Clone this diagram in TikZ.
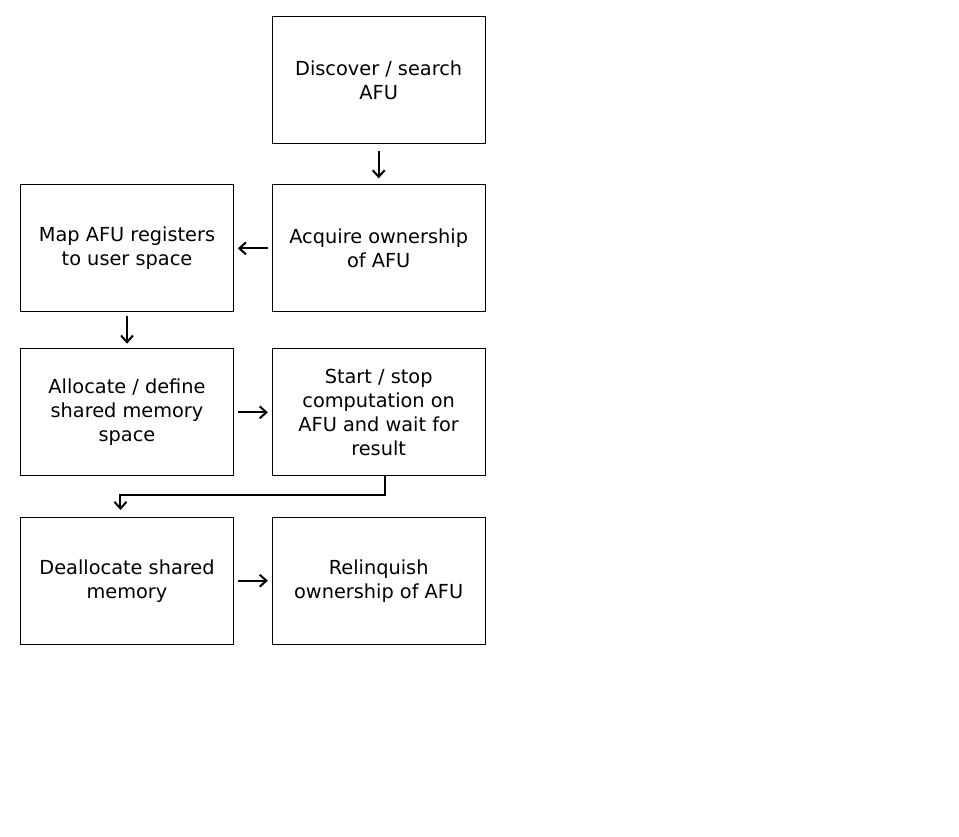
\documentclass[tikz,border=0pt]{standalone}
\usepackage{fontspec}
\setmainfont{DejaVu Sans}
\usetikzlibrary{arrows.meta, positioning}

\begin{document}
\begin{tikzpicture}[
          node distance=30.25pt and 28.5pt,
          stepbox/.style={rectangle, draw=black, line width=0.75pt, minimum width=159.5pt, minimum height=95.25pt, inner sep=0pt, align=center, font=\fontsize{14.5}{18}\selectfont},
          arrow/.style={-{Straight Barb[length=5pt, width=9pt]}, line width=1.5pt}
        ]
          \useasboundingbox (0,0) rectangle (719.25pt,-627pt);

          \node (discover) [stepbox] at (284pt,-60pt) {Discover / search\\AFU};
          \node (acquire) [stepbox, below=of discover] {Acquire ownership\\of AFU};
          \node (map) [stepbox, left=of acquire] {Map AFU registers\\to user space};
          \node (allocate) [stepbox, below=27pt of map] {Allocate / define\\shared memory\\space};
          \node (start) [stepbox, right=of allocate] {Start / stop\\computation on\\AFU and wait for\\result};
          \node (dealloc) [stepbox, below=of allocate] {Deallocate shared\\memory};
          \node (relinquish) [stepbox, right=of dealloc] {Relinquish\\ownership of AFU};

          \draw [arrow, shorten <=5pt, shorten >=4.5pt] (discover) -- (acquire);
          \draw [arrow, shorten <=3pt, shorten >=3pt] (acquire) -- (map);
          \draw [arrow, shorten <=2.5pt, shorten >=3.5pt] (map) -- (allocate);
          \draw [arrow, shorten <=3pt, shorten >=3pt] (allocate) -- (start);
          \draw [arrow, shorten >=5pt] ([xshift=4.9pt]start.south) -- ++(0,-14.25pt) -| ([xshift=-4.9pt]dealloc.north);
          \draw [arrow, shorten <=3pt, shorten >=3pt] (dealloc) -- (relinquish);
        \end{tikzpicture}
\end{document}
